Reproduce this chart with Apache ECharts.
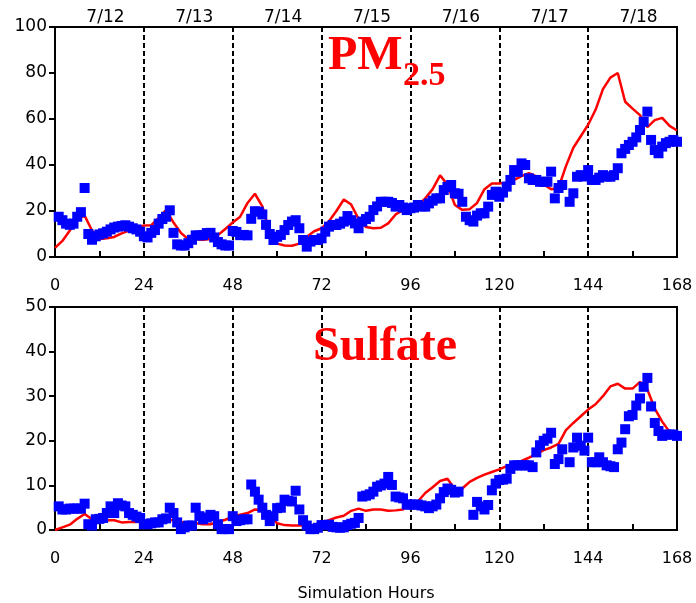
<!DOCTYPE html>
<html>
<head>
<meta charset="utf-8">
<script src="https://cdn.jsdelivr.net/npm/echarts@6/dist/echarts.min.js"></script>
<style>
  html, body { margin: 0; padding: 0; background: #fff; }
  #chart { width: 696px; height: 603px; }
</style>
</head>
<body>
<div id="chart"></div>
<script>
// dates shown across the top of the PM2.5 panel
var dayLabels = ['7/12', '7/13', '7/14', '7/15', '7/16', '7/17', '7/18'];

// model (red line), one value every 2 simulation hours, 0..168
var pmModel = [
  4, 7, 11.5, 16.5, 18, 11.5, 7.8, 8.2, 8.7,
  10.3, 11.5, 12.5, 13.7, 13.8, 17, 20.4, 15, 10.5, 7.7,
  7.7, 7.5, 7.8, 9.5, 12.2, 15, 17.5, 23.5, 27.5, 22,
  10.5, 5.8, 5, 4.9, 5.8, 8.8, 11.2, 12.5, 15.5, 20, 25, 22.8,
  16.5, 13, 12.5, 12.7, 14.6, 18.5, 20.4, 20.4, 22.5, 25.5, 29.5, 35.5,
  31.5, 22.6, 20.5, 20.8, 23.5, 29.5, 32, 32, 32.3, 33.5, 35.2, 36.5,
  35, 31.5, 29.5, 30, 39.5, 47.5, 52.5, 57.5, 64, 73, 78, 80,
  67.5, 64.5, 61.7, 56.5, 59.5, 60.5, 57, 55
];
var so4Model = [
  0, 0.6, 1.2, 2.5, 3.6, 2.4, 1.8, 2.2, 2.2,
  1.7, 1.8, 1.8, 1.8, 1.9, 2, 2.3, 2.2, 1.8, 1.6,
  1.5, 1.3, 1.3, 1.8, 2.3, 3, 3.4, 3.8, 4.6, 4.5,
  3.3, 1.5, 1.1, 1, 1, 1.1, 1.2, 1.6, 2.2, 2.8, 3.2, 4.3,
  4.8, 4.3, 4.6, 4.6, 4.3, 4.4, 4.6, 5.7, 6.4, 8.3, 9.6, 11,
  11.5, 9.2, 9.3, 10.8, 11.7, 12.4, 13, 13.6, 14.3, 14.9, 15.5, 16.2,
  17, 17.9, 18.5, 19.3, 22.4, 24, 25.5, 27, 28.2, 30, 32.2, 32.8,
  31.7, 31.7, 33.2, 31.5, 27.2, 24.3, 22, 21.4
];

// observations (blue squares), hourly 0..168, null = no measurement
var pmObs = [
  null, 17.5, 16, 14.5, 14, 14.5, 17.5, 19.5, 30, 10,
  7.5, 9, 9.8, 10.3, 11, 12, 12.8, 13.2, 13.5, 13.8,
  13.2, 12.5, 12, 11, 9, 8.5, 10.5, 11.7, 14.5, 16.5,
  17.5, 20.3, 10.5, 5.5, 5, 5, 6, 7.5, 9.4, 9.4,
  9.5, 10.4, 10.5, 8.5, 6.5, 5.5, 5, 5, 11.3, 10.9,
  9.5, 9.6, 9.4, 16.6, 19.9, 19.7, 18.5, 14, 10, 7.4,
  8.8, 9.6, 11.7, 13.9, 15.4, 16, 12.5, 7.4, 4.5, 6.7,
  7.4, 7.4, 8.1, 11, 13.2, 13.9, 13.9, 14.5, 15.4, 17.8,
  16, 14.6, 12.5, 15.4, 16.5, 17.5, 20.4, 22, 24, 24,
  24, 23.5, 21.9, 22.6, 21.5, 20.4, 21.2, 21.5, 22.6, 22,
  21.9, 23.3, 24.5, 25.5, 25.5, 29.1, 30.5, 31.3, 27.7, 27.5,
  24, 17.5, 16, 15.4, 18, 19, 19, 21.9, 27, 28.4,
  26.2, 28, 30.6, 33.5, 37.8, 37, 40.7, 40, 34.2, 33.5,
  33.5, 32.7, 32.7, 32.7, 37.1, 25.5, 30, 31.3, null, 24,
  27.7, 34.9, 35.6, 35, 37.8, 33.5, 33.5, 34.5, 35.6, 35,
  34.9, 35.6, 38.6, 45.1, 47, 48.7, 50.1, 52, 55.2, 58.8,
  63.2, 50.9, 46.5, 45.1, 48, 49.5, 50.1, 50.9, 50.1
];
var so4Obs = [
  null, 5.3, 4.6, 4.6, 4.8, 4.8, 4.8, 4.8, 5.9, 1.3,
  1, 2.4, 2.5, 2.7, 3.8, 5.3, 3.8, 6, 5.5, 5.3,
  3.8, 3.4, 3, 2.7, 1.3, 1.3, 1.5, 1.7, 1.7, 2.4,
  2.6, 5, 3.8, 1.7, 0.2, 0.6, 1, 1, 5, 3.1,
  2.4, 2.8, 3.4, 3.1, 1.3, 0.2, 0.2, 0.2, 3.1, 2,
  2.2, 2.4, 2.4, 10.2, 8.6, 6.8, 5, 3.4, 2, 3.1,
  4.9, 5, 6.8, 6.5, 6.4, 8.8, 4.6, 2.2, 1, 0.2,
  0.2, 0.5, 1.1, 1.1, 1.2, 0.7, 0.6, 0.5, 0.6, 1.1,
  1.4, 1.6, 2.7, 7.5, 7.7, 8, 8.6, 9.7, 10, 10.4,
  11.9, 10.1, 7.5, 7.3, 7.1, 5.7, 5.7, 5.7, 5.7, 5.5,
  5.3, 4.9, 5.3, 5.7, 7.1, 8.5, 9.3, 9, 8.4, 8.6,
  null, null, null, 3.4, 6.3, 5.3, 4.6, 5.6, 8.9, 10.4,
  11.2, 11.3, 11.5, 13.7, 14.5, 14.5, 14.5, 14.5, 14.5, 14.1,
  17.4, 19, 20, 20.5, 21.8, 14.8, 15.9, 18.1, null, 15.2,
  18.5, 20.7, 18.9, 17.8, 20.7, 15.2, 15.2, 16.3, 15.2, 14.5,
  14.3, 14.1, 18.1, 19.6, 22.6, 25.5, 25.8, 27.9, 29.5, 32.1,
  34.1, 27.7, 24, 22.2, 21.1, 21.4, 21.4, 21.4, 21.1
];

var modelHours = [];
for (var h = 0; h <= 168; h += 2) modelHours.push(h);
var obsHours = [];
for (var k = 0; k <= 168; k++) obsHours.push(k);

function pairs(xs, ys) {
  var out = [];
  for (var i = 0; i < xs.length; i++) {
    if (ys[i] !== null) out.push([xs[i], ys[i]]);
  }
  return out;
}

var black = '#000';
var tickFont = { color: black, fontSize: 16, fontFamily: 'DejaVu Sans' };

function hourAxis(gridIndex, extra) {
  var ax = {
    type: 'value', gridIndex: gridIndex, min: 0, max: 168, interval: 24,
    axisLine: { show: true, onZero: false, lineStyle: { color: black, width: 2 } },
    axisTick: { show: true, inside: true, length: 6, lineStyle: { color: black, width: 2 } },
    minorTick: { show: true, splitNumber: 2, length: 6, lineStyle: { color: black, width: 2 } },
    axisLabel: Object.assign({ margin: 21 }, tickFont),
    splitLine: { show: true, lineStyle: { color: black, width: 2, type: [5, 3] } }
  };
  return Object.assign(ax, extra || {});
}

function concAxis(gridIndex, max, step) {
  return {
    type: 'value', gridIndex: gridIndex, min: 0, max: max, interval: step,
    axisLine: { show: true, lineStyle: { color: black, width: 2 } },
    axisTick: { show: true, length: 6, lineStyle: { color: black, width: 2 } },
    axisLabel: { margin: 8, color: black, fontSize: 17, fontFamily: 'DejaVu Sans' },
    splitLine: { show: false }
  };
}

var chart = echarts.init(document.getElementById('chart'));

var option = {
  animation: false,
  backgroundColor: '#fff',
  grid: [
    { left: 55, right: 19, top: 27, height: 230, show: true, borderColor: black, borderWidth: 2, backgroundColor: 'transparent' },
    { left: 55, right: 19, top: 307, height: 227, show: true, borderColor: black, borderWidth: 2, backgroundColor: 'transparent' }
  ],
  xAxis: [
    hourAxis(0),
    hourAxis(1, {
      name: 'Simulation Hours', nameLocation: 'middle', nameGap: 56,
      nameTextStyle: { color: black, fontSize: 16, fontFamily: 'DejaVu Sans' }
    }),
    {
      type: 'category', gridIndex: 0, position: 'top', data: dayLabels, boundaryGap: true,
      axisLine: { show: false }, axisTick: { show: false }, splitLine: { show: false },
      axisLabel: { margin: 1, padding: [0, 0, 0, 12], fontSize: 17, color: black, fontFamily: 'DejaVu Sans' }
    }
  ],
  yAxis: [
    concAxis(0, 100, 20),
    concAxis(1, 50, 10)
  ],
  series: [
    {
      type: 'line', xAxisIndex: 0, yAxisIndex: 0, data: pairs(modelHours, pmModel),
      showSymbol: false, lineStyle: { color: '#ff0000', width: 2.5 }, z: 2
    },
    {
      type: 'scatter', xAxisIndex: 0, yAxisIndex: 0, data: pairs(obsHours, pmObs),
      symbol: 'rect', symbolSize: 10, itemStyle: { color: '#0000ff', opacity: 1 }, z: 3
    },
    {
      type: 'line', xAxisIndex: 1, yAxisIndex: 1, data: pairs(modelHours, so4Model),
      showSymbol: false, lineStyle: { color: '#ff0000', width: 2.5 }, z: 2
    },
    {
      type: 'scatter', xAxisIndex: 1, yAxisIndex: 1, data: pairs(obsHours, so4Obs),
      symbol: 'rect', symbolSize: 10, itemStyle: { color: '#0000ff', opacity: 1 }, z: 3
    }
  ],
  graphic: [
    { type: 'text', left: 328, top: 33, style: { text: 'PM', fill: '#ff0000', font: 'bold 48px "Liberation Serif"' }, z: 10 },
    { type: 'text', left: 403, top: 59, style: { text: '2.5', fill: '#ff0000', font: 'bold 34px "Liberation Serif"' }, z: 10 },
    { type: 'text', left: 313, top: 324, style: { text: 'Sulfate', fill: '#ff0000', font: 'bold 48px "Liberation Serif"' }, z: 10 }
  ]
};

chart.setOption(option);
</script>
</body>
</html>
